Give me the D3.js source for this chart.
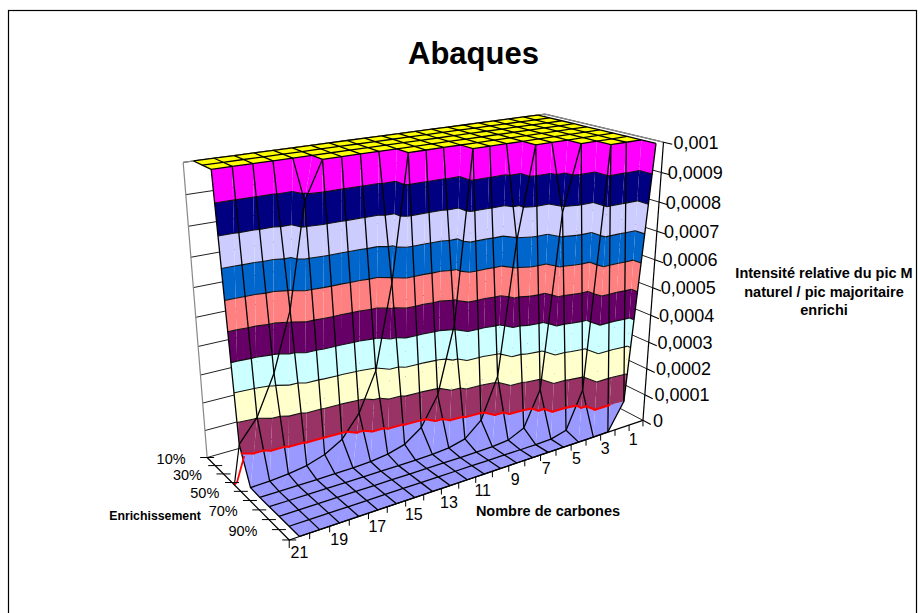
<!DOCTYPE html>
<html><head><meta charset="utf-8">
<script src="https://d3js.org/d3.v7.min.js"></script>
<style>html,body{margin:0;padding:0;background:#fff}svg{display:block}text{font-family:"Liberation Sans",Arial,sans-serif;fill:#000}</style>
</head><body><svg id="c" width="920" height="613"></svg>
<script>
const carbons=d3.range(1,22);
const enrichments=[10,20,30,40,50,60,70,80,90,100];
const enrichLabels=["10%","","30%","","50%","","70%","","90%",""];
const zTicks=[0,0.0001,0.0002,0.0003,0.0004,0.0005,0.0006,0.0007,0.0008,0.0009,0.001];
const zLabels=["0","0,0001","0,0002","0,0003","0,0004","0,0005","0,0006","0,0007","0,0008","0,0009","0,001"];
const bandColors=["#9999FF","#993366","#FFFFCC","#CCFFFF","#660066","#FF8080","#0066CC","#CCCCFF","#000080","#FF00FF"];
const topColor="#FFFF00";
// values per carbon number 1..21
const e10=[1,1,1,1,1,1,1,1,1,.9,.818,.75,.69,.64,.6,.56,.53,.5,.47,.43,.39];
const e20=[1,1,1,1,.8,.67,.57,.5,.44,.36,.29,.24,.205,.176,.14,.114,.094,.078,.066,.053,.043];
const e30=[1,1,.78,.58,.47,.36,.26,.19,.15,.106,.077,.058,.041,.03,.0217,.0158,.0112,.00806,.00594,.00416,.00297];
const e40=[1,.75,.5,.375,.225,.15,.096,.06,.04,.024,.0153,.0096,.0059,.00379,.00228,.00142,.000879,.000537,.000339,.000203,.000126];
const e50=[1,.5,.333,.167,.1,.05,.0286,.0143,.0079,.00397,.00216,.00108,.000583,.000291,.000155,.000078,.000041,.0000206,.0000108,.0000054,.0000028];
const e60=[.667,.333,.148,.074,.0296,.0132,.0056,.00235,.00105,.000418,.000177,.000074,.00003,.000013,.0000052,.0000022,.0000009,.0000004,.0000002,.0000001,0];
const e70=[.43,.184,.061,.0197,.0068,.00225,.00069,.00022,.000074,.000022,.0000069,.0000023,.0000007,.0000002,.0000001,0,0,0,0,0,0];
const e80=[.25,.0625,.0156,.0039,.00078,.000163,.000035,.0000076,.0000017,.0000004,.0000001,0,0,0,0,0,0,0,0,0,0];
const e90=[.111,.0123,.00137,.000152,.000017,.0000019,.0000002,0,0,0,0,0,0,0,0,0,0,0,0,0,0];
const e100=[.01,.0001,.000001,0,0,0,0,0,0,0,0,0,0,0,0,0,0,0,0,0,0];
const rows=[e10,e20,e30,e40,e50,e60,e70,e80,e90,e100];

const zMax=0.001;
const uS=d3.scaleLinear().domain([21.5,0.5]).range([0,1]);
const vS=d3.scalePoint().domain(enrichments).range([0,1]);
const wS=d3.scaleLinear().domain([0,zMax]).range([0,1]).clamp(true);

// Camera: fit a projective map from the box to the page
const fit=[
 [0,0,0,207,458],[0,1,0,289,540],[1,1,0,643,420],[0,0,1,183,162],[1,0,1,545,114],[1,1,1,663,142],
 [uS(21),1,0,300,537],[uS(3),1,0,608,432],[1,1,.5,653,289],[0,0,.5,196,318],
 [uS(21),0,1,194,161],[uS(1),1,1,656,143],[uS(21),vS(50),0,250,487]];
function solve(A,b){const n=b.length;const M=A.map((r,i)=>[...r,b[i]]);
 for(let i=0;i<n;i++){let p=i;for(let k=i+1;k<n;k++)if(Math.abs(M[k][i])>Math.abs(M[p][i]))p=k;[M[i],M[p]]=[M[p],M[i]];
  for(let k=0;k<n;k++)if(k!==i){const f=M[k][i]/M[i][i];for(let j=i;j<=n;j++)M[k][j]-=f*M[i][j];}}
 return M.map((r,i)=>r[n]/r[i]);}
const P=(()=>{const R=[],B=[];fit.forEach(([u,v,w,x,y])=>{
  R.push([u,v,w,1,0,0,0,0,-x*u,-x*v,-x*w]);B.push(x);
  R.push([0,0,0,0,u,v,w,1,-y*u,-y*v,-y*w]);B.push(y);});
 const N=d3.range(11).map(i=>d3.range(11).map(j=>d3.sum(R,r=>r[i]*r[j])));
 const y=d3.range(11).map(i=>d3.sum(R,(r,k)=>r[i]*B[k]));return solve(N,y);})();
function proj(u,v,w){const d=P[8]*u+P[9]*v+P[10]*w+1;return [(P[0]*u+P[1]*v+P[2]*w+P[3])/d,(P[4]*u+P[5]*v+P[6]*w+P[7])/d];}
const line=d3.line();
const svg=d3.select("#c");
function seg(pts,stroke,w,op){svg.append("path").attr("d",line(pts)).attr("fill","none").attr("stroke",stroke).attr("stroke-width",w).attr("stroke-linejoin","round").attr("stroke-linecap",op||"butt");}
function txt(x,y,s,size,opt={}){svg.append("text").attr("x",x).attr("y",y).attr("font-size",size).attr("font-weight",opt.b?"bold":null).attr("text-anchor",opt.a||"start").text(s);}

// frame and titles
svg.append("rect").attr("x",8.5).attr("y",10.5).attr("width",908).attr("height",640).attr("fill","#fff").attr("stroke","#000").attr("stroke-width",1.2);
txt(473.5,64,"Abaques",31,{b:1,a:"middle"});

// walls
const gridC="#222";
zTicks.forEach(z=>{const w=wS(z);
  seg([proj(0,0,w),proj(1,0,w),proj(1,1,w)],gridC,1);
});
seg([proj(0,0,0),proj(0,0,1)],"#888",1.2);
seg([proj(0,0,1),proj(1,0,1),proj(1,1,1)],"#888",1.2);
seg([proj(1,0,0),proj(1,0,1)],"#888",1);

// surface
const node=(i,j)=>({u:uS(carbons[i]),v:vS(enrichments[j]),w:wS(rows[j][i])});
function lerp(a,b,t){return {u:a.u+(b.u-a.u)*t,v:a.v+(b.v-a.v)*t,w:a.w+(b.w-a.w)*t};}
function clip(poly,lo,hi){
 const one=(pl,keep,L)=>{const out=[];pl.forEach((p,k)=>{const q=pl[(k+1)%pl.length];const a=keep(p),b=keep(q);
   if(a)out.push(p);if(a!==b)out.push(lerp(p,q,(L-p.w)/(q.w-p.w)));});return out;};
 let r=one(poly,p=>p.w>=lo,lo);if(r.length<3)return r;return one(r,p=>p.w<=hi,hi);}
const pp=p=>proj(p.u,p.v,p.w);
const fills=svg.append("g"),contours=[],redC=[];
const levels=zTicks.slice(1,10).map(wS);
function tri(a,b,c){
 const t=[a,b,c];
 if(a.w>=1&&b.w>=1&&c.w>=1){fills.append("path").attr("d",line(t.map(pp))+"Z").attr("fill",topColor).attr("stroke",topColor).attr("stroke-width",.5);return;}
 bandColors.forEach((col,k)=>{const lo=wS(zTicks[k]),hi=wS(zTicks[k+1]);
   const q=clip(t,lo,hi);if(q.length<3)return;
   const flat=t.every(p=>p.w>=lo&&p.w<=hi);
   const el=fills.append("path").attr("d",line(q.map(pp))+"Z").attr("fill",col);
   if(flat)el.attr("stroke",col).attr("stroke-width",.5);
 });
 levels.forEach((L,k)=>{const x=[];[[a,b],[b,c],[c,a]].forEach(([p,q])=>{if((p.w-L)*(q.w-L)<0)x.push(lerp(p,q,(L-p.w)/(q.w-p.w)));});
   if(x.length===2)(k===0?redC:contours).push(x.map(pp));});
}
for(let j=0;j<rows.length-1;j++)for(let i=0;i<carbons.length-1;i++){
 const a=node(i,j),b=node(i+1,j),c=node(i+1,j+1),d=node(i,j+1);
 tri(a,b,c);tri(a,c,d);
}
contours.forEach(s=>seg(s,"#111",1.1));
// mesh
for(let j=0;j<rows.length;j++)seg(carbons.map((_,i)=>pp(node(i,j))),"#000",1.3);
for(let i=0;i<carbons.length;i++)seg(enrichments.map((_,j)=>pp(node(i,j))),"#000",1.3);

// lines where the surface meets the series axis at the 21-carbon edge
const edgeEnd=proj(0,vS(40)+.03,0);
seg([pp(node(20,3)),edgeEnd],"#000",1.2);
redC.forEach(s=>seg(s,"#FF0000",2,"round"));
seg([proj(uS(21),(vS(40)+vS(50))/2,.1),proj(uS(21)-.016,vS(40)+.025,.005),edgeEnd],"#FF0000",1.8);

// axes
seg([proj(0,0,0),proj(0,1,0),proj(1,1,0)],"#000",1.2);
seg([proj(1,1,0),proj(1,1,1)],"#000",1.2);
zTicks.forEach((z,k)=>{const w=wS(z),a=proj(1,1,w),b=proj(1,1.065,w);seg([a,b],"#000",1.1);
  const dx=zLabels[k].length===6?-4*w:0;
  txt(a[0]+10+dx,a[1]+6.5,zLabels[k],18);});
d3.range(0,22).forEach(t=>{const p=proj(t/21,1,0);seg([p,[p[0],p[1]+(t===0?8:6)]],"#000",1);});
carbons.filter(c=>c%2===1).forEach(c=>{const p=proj(uS(c),1,0);txt(p[0]-3+(c/21)*3,p[1]+22,String(c),16,{a:"middle"});});
enrichments.forEach((e,j)=>{const p=proj(0,vS(e),0);seg([[p[0]-7,p[1]],[p[0]+7,p[1]]],"#000",1);
  if(enrichLabels[j])txt(p[0]-21.5,p[1]+6.5,enrichLabels[j],14.5,{a:"end"});});
txt(548,516,"Nombre de carbones",14.5,{b:1,a:"middle"});
txt(155,520,"Enrichissement",12.3,{b:1,a:"middle"});
[["Intensité relative du pic M",278],["naturel / pic majoritaire",297],["enrichi",315]].forEach(d=>txt(824,d[1],d[0],14.5,{b:1,a:"middle"}));
</script></body></html>
